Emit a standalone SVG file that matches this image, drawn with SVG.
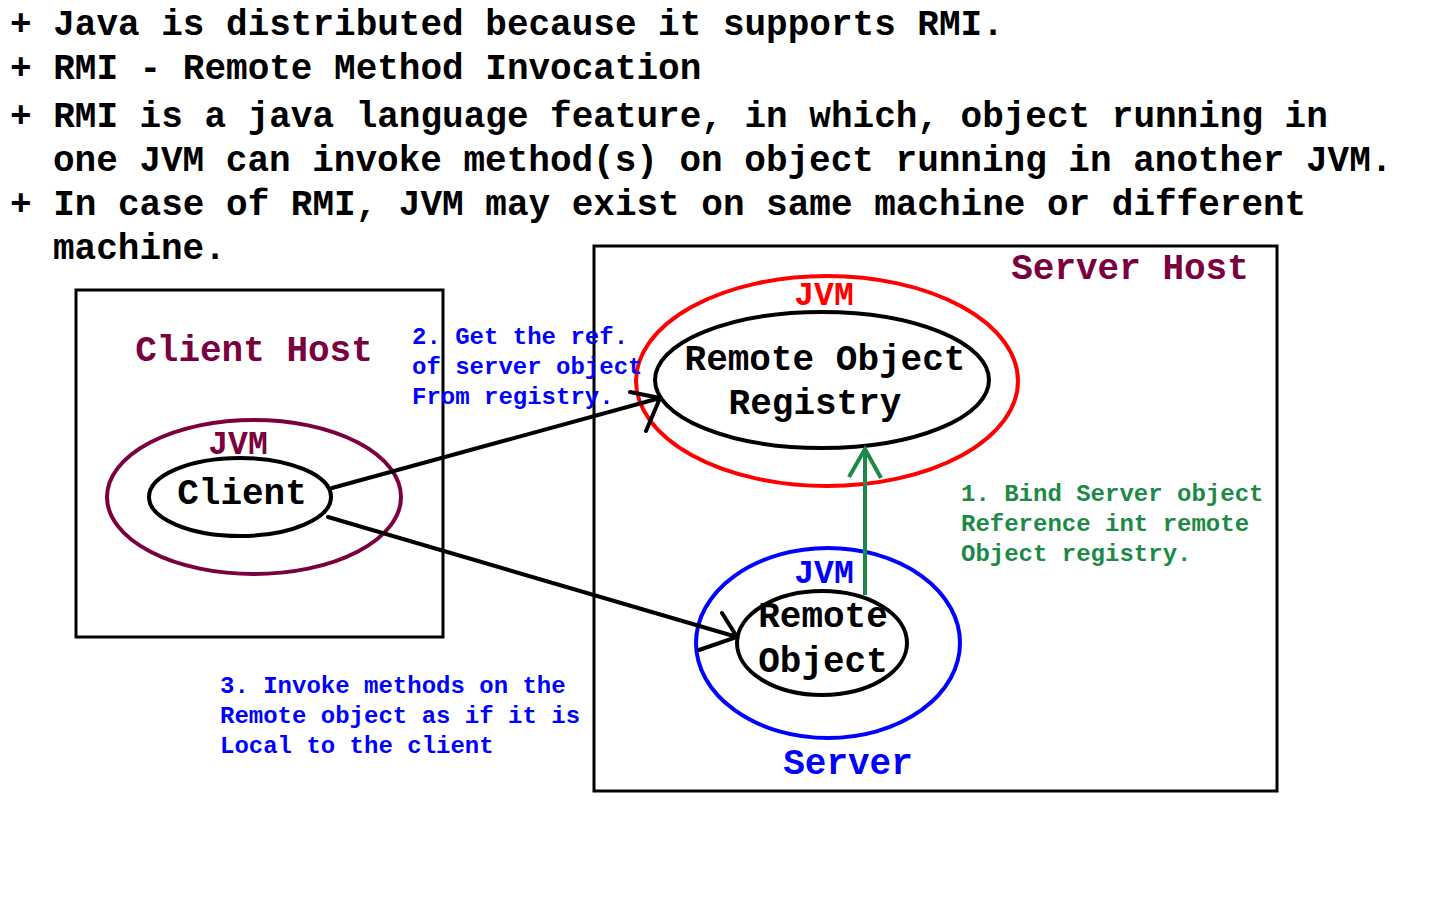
<svg xmlns="http://www.w3.org/2000/svg" width="1440" height="900" viewBox="0 0 1440 900">
<style>
text{font-family:"Liberation Mono","Courier New",monospace;font-weight:bold;white-space:pre}
.big{font-size:36px}
.lbl{font-size:36px}
.jvm{font-size:33px}
.note{font-size:24px}
.box{fill:none;stroke:#000;stroke-width:3}
.el{fill:none;stroke-width:4}
.conn{fill:none;stroke:#000;stroke-width:4;stroke-linecap:round}
</style>
<rect width="1440" height="900" fill="#fff"/>
<g id="intro" class="big" fill="#000">
<text x="10" y="35">+ Java is distributed because it supports RMI.</text>
<text x="10" y="79">+ RMI - Remote Method Invocation</text>
<text x="10" y="127">+ RMI is a java language feature, in which, object running in</text>
<text x="53" y="171">one JVM can invoke method(s) on object running in another JVM.</text>
<text x="10" y="215">+ In case of RMI, JVM may exist on same machine or different</text>
<text x="53" y="259">machine.</text>
</g>
<g id="client-host">
<rect class="box" x="76" y="290" width="367" height="347"/>
<text class="lbl" x="254" y="361" text-anchor="middle" fill="#7a0040">Client Host</text>
</g>
<g id="server-host">
<rect class="box" x="594" y="246" width="683" height="545"/>
<text class="lbl" x="1130" y="279" text-anchor="middle" fill="#7a0040">Server Host</text>
</g>
<g id="client-jvm">
<ellipse class="el" cx="254" cy="497" rx="147" ry="77" stroke="#7a0040"/>
<text class="jvm" x="238" y="454" text-anchor="middle" fill="#7a0040">JVM</text>
</g>
<g id="client">
<ellipse class="el" cx="240" cy="497" rx="91" ry="39" stroke="#000"/>
<text class="lbl" x="242" y="504" text-anchor="middle" fill="#000">Client</text>
</g>
<g id="registry-jvm">
<ellipse class="el" cx="827" cy="381" rx="191" ry="105" stroke="#ff0000"/>
<text class="jvm" x="824" y="305" text-anchor="middle" fill="#ff0000">JVM</text>
</g>
<g id="registry">
<ellipse class="el" cx="822" cy="380" rx="167" ry="68" stroke="#000"/>
<text class="lbl" x="825" y="370" text-anchor="middle" fill="#000">Remote Object</text>
<text class="lbl" x="815" y="414" text-anchor="middle" fill="#000">Registry</text>
</g>
<g id="server-jvm">
<ellipse class="el" cx="828" cy="643" rx="132" ry="95" stroke="#0000ff"/>
<text class="jvm" x="824" y="583" text-anchor="middle" fill="#0000ff">JVM</text>
<text class="lbl" x="848" y="774" text-anchor="middle" fill="#0000ff">Server</text>
</g>
<g id="remote-object">
<ellipse class="el" cx="822" cy="643" rx="85" ry="52" stroke="#000"/>
<text class="lbl" x="823" y="627" text-anchor="middle" fill="#000">Remote</text>
<text class="lbl" x="823" y="672" text-anchor="middle" fill="#000">Object</text>
</g>
<g id="connectors">
<path class="conn" d="M332 488 L660 398 M630 392 L660 398 L646 431"/>
<path class="conn" d="M328 517 L737 637 M722 613 L737 637 L699 650"/>
<path d="M865 595 L865 449 M849 477 L865 449 L881 478" fill="none" stroke="#1c8a46" stroke-width="4"/>
</g>
<g id="labels" class="note">
<g fill="#0000ff">
<text x="412" y="344">2. Get the ref.</text>
<text x="412" y="374">of server object</text>
<text x="412" y="404">From registry.</text>
</g>
<g fill="#1c8a46">
<text x="961" y="501">1. Bind Server object</text>
<text x="961" y="531">Reference int remote</text>
<text x="961" y="561">Object registry.</text>
</g>
<g fill="#0000ff">
<text x="220" y="693">3. Invoke methods on the</text>
<text x="220" y="723">Remote object as if it is</text>
<text x="220" y="753">Local to the client</text>
</g>
</g>
</svg>
